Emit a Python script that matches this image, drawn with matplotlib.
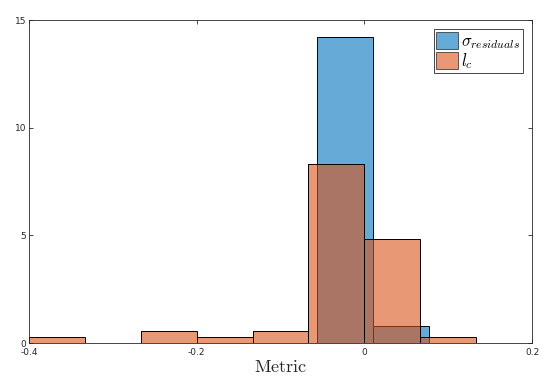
import numpy as np
import matplotlib.pyplot as plt

plt.rcParams['mathtext.fontset'] = 'cm'

# histogram data (bin left edges, bin width, heights)
bin_width = 1 / 15
sigma_edges = [-0.056, 0.0107]
sigma_heights = [14.2, 0.8]
lc_edges = [-0.4 + i / 15 for i in range(8)]
lc_heights = [0.28, 0.0, 0.56, 0.28, 0.56, 8.3, 4.83, 0.28]

blue = (0.0, 0.447, 0.741)
orange = (0.85, 0.325, 0.098)

fig = plt.figure(figsize=(5.5, 3.81), dpi=100)
ax = fig.add_axes([0.0527, 0.0997, 0.9146, 0.8478])

ax.bar(sigma_edges, sigma_heights, width=bin_width, align='edge', color=blue, alpha=0.6,
       edgecolor='none', label=r'$\sigma_{residuals}$')
ax.bar(sigma_edges, sigma_heights, width=bin_width, align='edge', fill=False,
       edgecolor='black', linewidth=0.7)
ax.bar(lc_edges, lc_heights, width=bin_width, align='edge', color=orange, alpha=0.6,
       edgecolor='none', label=r'$l_c$')
ax.bar(lc_edges, lc_heights, width=bin_width, align='edge', fill=False,
       edgecolor='black', linewidth=0.7)

ax.set_xlim(-0.4, 0.2)
ax.set_ylim(0, 15)
ax.set_xticks([-0.4, -0.2, 0, 0.2])
ax.set_xticklabels(['-0.4', '-0.2', '0', '0.2'])
ax.set_yticks([0, 5, 10, 15])
ax.tick_params(direction='in', top=True, right=True, labelsize=6.5, colors='#262626',
               length=3, width=0.6, pad=2)
ax.tick_params(axis='x', pad=3.5)
for sp in ax.spines.values():
    sp.set_color('#262626')
    sp.set_linewidth(0.6)

ax.set_xlabel(r'$\mathrm{Metric}$', fontsize=13, color='#262626', labelpad=1)

handles = [plt.Rectangle((0, 0), 1, 1, facecolor=c, alpha=0.6, edgecolor='black', linewidth=0.7)
           for c in (blue, orange)]
leg = ax.legend(handles, [r'$\sigma_{residuals}$', r'$l_c$'], loc='upper right', fontsize=12,
                fancybox=False, framealpha=1, edgecolor='#262626', handlelength=1.3,
                handleheight=1.2, handletextpad=0.2, borderpad=0.15, labelspacing=0.0,
                borderaxespad=0.55)
leg.get_frame().set_linewidth(0.6)

fig.savefig('out.png', dpi=100)
